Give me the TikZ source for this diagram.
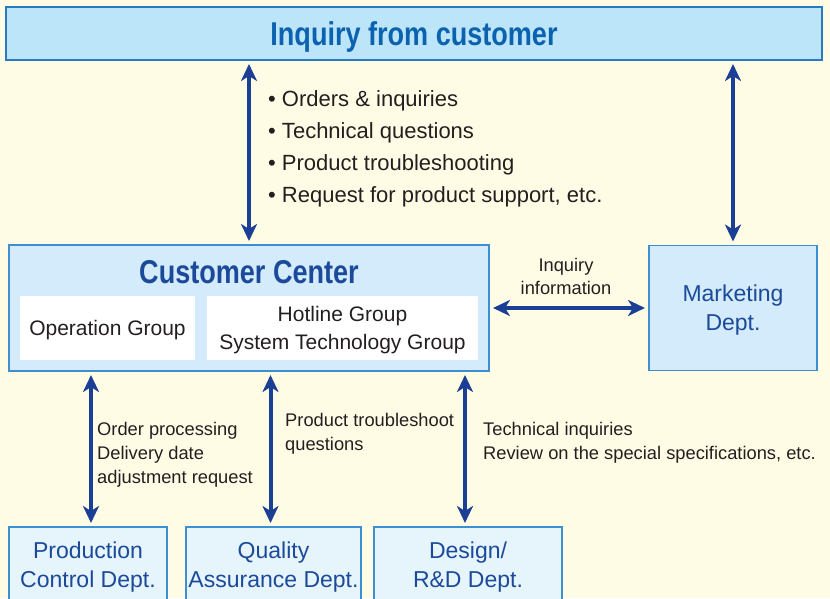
\documentclass[tikz,border=0pt]{standalone}
\usepackage{fontspec}
\setmainfont{Liberation Sans}
\usepackage{xcolor}
\usetikzlibrary{arrows.meta,positioning}

\definecolor{cream}{HTML}{FFFCE6}
\definecolor{skyfill}{HTML}{BDE5FA}
\definecolor{skyline}{HTML}{2A7AC0}
\definecolor{boxfill}{HTML}{D3EBFA}
\definecolor{boxline}{HTML}{3D8FD0}
\definecolor{lowfill}{HTML}{E6F4FC}
\definecolor{titleblue}{HTML}{0B62AE}
\definecolor{navy}{HTML}{1C4A9A}
\definecolor{arrowblue}{HTML}{1A3F94}
\definecolor{ink}{HTML}{231F20}

\newcommand{\narrowbold}[1]{\scalebox{0.82}[1]{\bfseries #1}}

\begin{document}
\begin{tikzpicture}[x=1pt,y=-1pt,
  box/.style={rectangle, draw=boxline, fill=boxfill, line width=1.2pt,
              outer sep=0pt, inner sep=0pt, align=center, text depth=0pt},
  lowbox/.style={box, fill=lowfill, text=navy, minimum height=76pt,
                 font=\fontsize{23}{29}\selectfont},
  wbox/.style={rectangle, fill=white, outer sep=0pt, inner sep=0pt, text depth=0pt,
               align=center, minimum height=64pt, text=ink,
               font=\fontsize{21}{28}\selectfont},
  lbl/.style={inner sep=0pt, text=ink, font=\fontsize{18.3}{24}\selectfont},
  link/.style={<->, draw=arrowblue, line width=4pt, shorten <=4pt, shorten >=4pt},
  >={Stealth[length=17pt,width=16pt,inset=5pt]}]

  \fill[cream] (0,0) rectangle (830,598);
  \useasboundingbox (0,0) rectangle (830,598);

  % top bar
  \node[box, fill=skyfill, draw=skyline, minimum width=816pt, minimum height=53pt,
        text=titleblue, font=\fontsize{33}{36}\selectfont] (inq) at (414,33.5)
        {\narrowbold{Inquiry from customer}};

  % customer center
  \node[box, minimum width=480pt, minimum height=126pt] (cc) at (249,308) {};
  \node[text=navy, font=\fontsize{33}{36}\selectfont, inner sep=0pt] (cct)
        at ([yshift=-27pt]cc.north) {\narrowbold{Customer Center}};
  \node[wbox, minimum width=175pt, anchor=south west] (ops)
        at ([shift={(11pt,11pt)}]cc.south west) {Operation Group};
  \node[wbox, minimum width=271pt, right=12pt of ops] (hot)
        {Hotline Group\\System Technology Group};

  \node[box, minimum width=168pt, minimum height=125pt, right=160pt of cc,
        text=navy, font=\fontsize{23}{29}\selectfont] (mkt) {Marketing\\Dept.};

  % departments
  \node[lowbox, minimum width=158pt] (prod) at (88,565) {Production\\Control Dept.};
  \node[lowbox, minimum width=175pt, right=19pt of prod] (qual) {Quality\\Assurance Dept.};
  \node[lowbox, minimum width=188pt, right=13pt of qual] (des) {Design/\\R\&D Dept.};

  % arrows
  \draw[link] (inq.south -| cc.north) -- (cc.north);
  \draw[link] (inq.south -| mkt.north) -- (mkt.north);
  \draw[link] (cc.east) -- (mkt.west);
  \draw[link] ([xshift=3pt]cc.south -| prod.north) -- ([xshift=3pt]prod.north);
  \draw[link] ([xshift=-3pt]cc.south -| qual.north) -- ([xshift=-3pt]qual.north);
  \draw[link] ([xshift=-3pt]cc.south -| des.north) -- ([xshift=-3pt]des.north);

  % labels
  \node[lbl, anchor=west, align=left, font=\fontsize{22}{32}\selectfont] (topics) at (268,149)
        {\textbullet\ Orders \& inquiries\\
         \textbullet\ Technical questions\\
         \textbullet\ Product troubleshooting\\
         \textbullet\ Request for product support, etc.};
  \node[lbl, align=center, font=\fontsize{18.3}{23}\selectfont] (infl) at (566,276)
        {Inquiry\\information};
  \node[lbl, anchor=west, align=left] (ordl) at (97,454.5)
        {Order processing\\Delivery date\\adjustment request};
  \node[lbl, anchor=west, align=left] (trbl) at (285,434)
        {Product troubleshoot\\questions};
  \node[lbl, anchor=west, align=left] (tecl) at (483,443)
        {Technical inquiries\\Review on the special specifications, etc.};
\end{tikzpicture}
\end{document}
